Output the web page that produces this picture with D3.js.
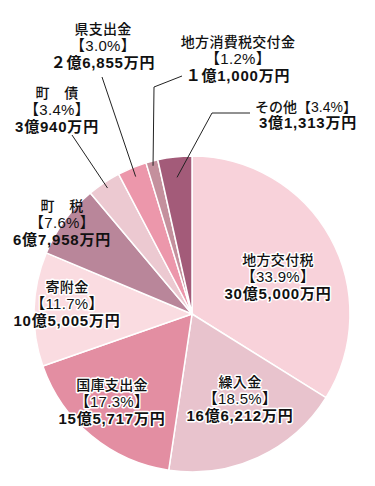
<!DOCTYPE html>
<html>
<head>
<meta charset="utf-8">
<script src="https://cdn.jsdelivr.net/npm/d3@7"></script>
<style>
  html, body { margin: 0; padding: 0; background: #fff; }
  svg { display: block; }
  text { font-family: "Liberation Sans", "Noto Sans CJK JP", sans-serif; fill: #111; }
</style>
</head>
<body>
<svg width="375" height="486"></svg>
<script>
// 歳入の内訳（時計回り、12時から）
var names   = ["地方交付税", "繰入金", "国庫支出金", "寄附金", "町　税", "町　債", "県支出金", "地方消費税交付金", "その他"];
var amounts = [305000, 166212, 155717, 105005, 67958, 30940, 26855, 11000, 31313]; // 万円
var percents = ["33.9%", "18.5%", "17.3%", "11.7%", "7.6%", "3.4%", "3.0%", "1.2%", "3.4%"];
var amountLabels = ["30億5,000万円", "16億6,212万円", "15億5,717万円", "10億5,005万円", "6億7,958万円",
                    "3億940万円", "２億6,855万円", "１億1,000万円", "3億1,313万円"];
var colors = ["#f8d2da", "#e8c3cd", "#e38ea2", "#fadce1", "#b9869a", "#ecc9d1", "#ec97ab", "#c4909d", "#a35b79"];

var cx = 192, cy = 314, R = 158;

// ラベルの配置（中心x, 1行目y）
var labelPos = [
  {x: 278, y: 260, inside: true},
  {x: 240, y: 382, inside: true},
  {x: 112, y: 385, inside: true},
  {x: 67,  y: 287, inside: true},
  {x: 62,  y: 206, inside: false},
  {x: 57,  y: 93,  inside: false},
  {x: 103, y: 29,  inside: false},
  {x: 238, y: 42,  inside: false},
  {x: 306, y: 107, inside: false}
];
// 引き出し線（外側の点, 扇形内の半径比）
var leaders = [
  null, null, null, null, null,
  {pts: [[72, 135]], rf: 0.96},
  {pts: [[102, 77]], rf: 0.94},
  {pts: [[182, 76], [154, 87]], rf: 0.97},
  {pts: [[250, 113], [212, 113]], rf: 0.87}
];

var data = names.map(function(n, i) {
  return {name: n, value: amounts[i], pct: percents[i], amt: amountLabels[i], i: i};
});

var svg = d3.select("svg");
var g = svg.append("g").attr("transform", "translate(" + cx + "," + cy + ")");

var pie = d3.pie().sort(null).value(function(d) { return d.value; });
var arc = d3.arc().innerRadius(0).outerRadius(R);
var arcs = pie(data);

g.selectAll("path.slice")
  .data(arcs)
  .enter().append("path")
  .attr("class", "slice")
  .attr("d", arc)
  .attr("fill", function(d) { return colors[d.data.i]; })
  .attr("stroke", "#fff")
  .attr("stroke-width", 1.5);

// 引き出し線
arcs.forEach(function(d) {
  var ld = leaders[d.data.i];
  if (!ld) return;
  var mid = (d.startAngle + d.endAngle) / 2;
  var r = R * ld.rf;
  var end = [cx + r * Math.sin(mid), cy - r * Math.cos(mid)];
  var pts = ld.pts.concat([end]);
  svg.append("path")
    .attr("d", d3.line()(pts))
    .attr("fill", "none")
    .attr("stroke", "#222")
    .attr("stroke-width", 1);
});

// ラベル（1つのtextに複数行）
data.forEach(function(d, i) {
  var p = labelPos[i];
  var t = svg.append("text")
    .attr("text-anchor", "middle")
    .style("font-size", "14px");
  if (p.inside) {
    t.attr("stroke", "#fff").attr("stroke-width", 3)
      .attr("stroke-linejoin", "round").attr("paint-order", "stroke");
  }
  var lines;
  if (d.name === "その他") {
    lines = [
      {s: "その他【" + d.pct + "】", w: 500, y: p.y + 5, dx: 0, ls: 0},
      {s: d.amt, w: 700, y: p.y + 21, dx: 2, ls: 0.8, fs: 15}
    ];
  } else {
    lines = [
      {s: d.name, w: 500, y: p.y + 5, dx: 0, ls: 0.3},
      {s: "【" + d.pct + "】", w: 400, y: p.y + 22, dx: 0, ls: 0.3, fs: 15},
      {s: d.amt, w: 700, y: p.y + 39, dx: 0, ls: 0.8, fs: 15}
    ];
  }
  lines.forEach(function(l) {
    t.append("tspan")
      .attr("x", p.x + l.dx)
      .attr("y", l.y)
      .style("font-weight", l.w)
      .style("letter-spacing", l.ls + "px")
      .style("font-size", (l.fs || 14) + "px")
      .text(l.s);
  });
});
</script>
</body>
</html>
